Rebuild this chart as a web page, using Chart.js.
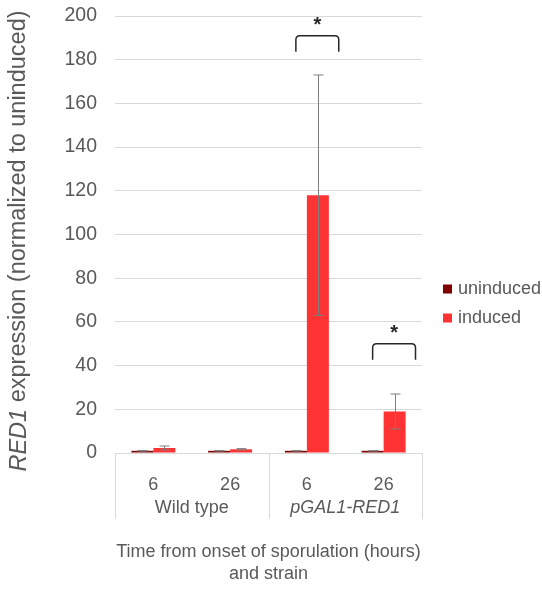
<!DOCTYPE html>
<html>
<head>
<meta charset="utf-8">
<script src="https://cdn.jsdelivr.net/npm/chart.js@4.4.1/dist/chart.umd.min.js"></script>
<style>
  html, body { margin: 0; padding: 0; background: #ffffff; }
  canvas { display: block; }
</style>
</head>
<body>
<canvas id="c" width="542" height="592"></canvas>
<script>
// ---- data ----
const categories = ['6', '26', '6', '26'];          // hours
const groups = ['Wild type', 'pGAL1-RED1'];          // strain (2 categories each)
const seriesNames = ['uninduced', 'induced'];
const uninduced = [1, 1, 1, 1];
const uninducedErr = [0.15, 0.1, 0.1, 0.1];
const induced = [2.3, 1.7, 118, 19];
const inducedErr = [0.9, 0.3, 55, 8];
const yTicksMin = 0, yTicksMax = 200, yTicksStep = 20;
const sigCategory = [2, 3];        // categories marked as significant
const sigBracketTop = [191, 50];   // bracket top, in y-axis units
const sigMark = '*';

// ---- styles ----
const FONT = "'Liberation Sans', Arial, sans-serif";
const TXT = '#595959';
const GRID = '#d9d9d9';
const COLORS = ['#7f0000', '#ff3333'];
const errs = [uninducedErr, inducedErr];

const overlay = {
  id: 'overlay',
  afterDatasetsDraw(chart) {
    const ctx = chart.ctx;
    const y = chart.scales.y;
    ctx.save();
    ctx.strokeStyle = '#7f7f7f';
    ctx.lineWidth = 1;
    chart.data.datasets.forEach((ds, di) => {
      const meta = chart.getDatasetMeta(di);
      meta.data.forEach((bar, i) => {
        const v = ds.data[i], e = errs[di][i];
        const x = Math.round(bar.x) + 0.5;
        const yt = y.getPixelForValue(v + e);
        const yb = y.getPixelForValue(Math.max(0, v - e));
        const cap = 5;
        ctx.beginPath();
        ctx.moveTo(x, yt); ctx.lineTo(x, yb);
        ctx.moveTo(x - cap, yt); ctx.lineTo(x + cap, yt);
        ctx.moveTo(x - cap, yb); ctx.lineTo(x + cap, yb);
        ctx.stroke();
      });
    });
    ctx.restore();
  },
  afterDraw(chart) {
    const ctx = chart.ctx;
    const area = chart.chartArea;
    const xs = chart.scales.x, ys = chart.scales.y;
    ctx.save();

    // group separators below the axis
    ctx.strokeStyle = GRID;
    ctx.lineWidth = 1;
    const mid = (xs.getPixelForValue(1) + xs.getPixelForValue(2)) / 2;
    [area.left, mid, area.right].forEach(px => {
      const xx = Math.round(px) + 0.5;
      ctx.beginPath();
      ctx.moveTo(xx, area.bottom);
      ctx.lineTo(xx, area.bottom + 66);
      ctx.stroke();
    });

    // group labels
    ctx.fillStyle = TXT;
    ctx.textAlign = 'center';
    ctx.textBaseline = 'middle';
    groups.forEach((g, gi) => {
      const cx = (xs.getPixelForValue(gi * 2) + xs.getPixelForValue(gi * 2 + 1)) / 2;
      ctx.font = (gi === 1 ? 'italic ' : '') + '18px ' + FONT;
      ctx.fillText(g, cx, area.bottom + 55);
    });

    // x-axis title
    ctx.font = '18px ' + FONT;
    const xc = (area.left + area.right) / 2;
    ctx.fillText('Time from onset of sporulation (hours)', xc, area.bottom + 99);
    ctx.fillText('and strain', xc, area.bottom + 121);

    // y-axis title (RED1 italic)
    ctx.save();
    ctx.translate(19, 241);
    ctx.rotate(-Math.PI / 2);
    const part1 = 'RED1', part2 = ' expression (normalized to uninduced)';
    const ysz = 23.5;
    ctx.font = 'italic ' + ysz + 'px ' + FONT;
    const w1 = ctx.measureText(part1).width;
    ctx.font = ysz + 'px ' + FONT;
    const w2 = ctx.measureText(part2).width;
    let sx = -(w1 + w2) / 2;
    ctx.textAlign = 'left';
    ctx.font = 'italic ' + ysz + 'px ' + FONT;
    ctx.fillText(part1, sx, 0);
    ctx.font = ysz + 'px ' + FONT;
    ctx.fillText(part2, sx + w1, 0);
    ctx.restore();

    // legend
    ctx.textAlign = 'left';
    ctx.textBaseline = 'middle';
    ctx.font = '18px ' + FONT;
    seriesNames.forEach((n, i) => {
      const cy = 289 + i * 29;
      ctx.fillStyle = COLORS[i];
      ctx.fillRect(443, cy - 4.5, 9, 9);
      ctx.fillStyle = TXT;
      ctx.fillText(n, 458, cy);
    });

    // significance brackets
    ctx.strokeStyle = '#262626';
    ctx.fillStyle = '#262626';
    ctx.lineWidth = 1.5;
    const m0 = chart.getDatasetMeta(0), m1 = chart.getDatasetMeta(1);
    sigCategory.forEach((ci, k) => {
      const b0 = m0.data[ci], b1 = m1.data[ci];
      const left = b0.x;
      const right = b1.x + b1.width * 0.95;
      const top = ys.getPixelForValue(sigBracketTop[k]);
      const bot = top + 16, r = 4;
      ctx.beginPath();
      ctx.moveTo(left, bot);
      ctx.lineTo(left, top + r);
      ctx.quadraticCurveTo(left, top, left + r, top);
      ctx.lineTo(right - r, top);
      ctx.quadraticCurveTo(right, top, right, top + r);
      ctx.lineTo(right, bot);
      ctx.stroke();
      ctx.font = 'bold 20px ' + FONT;
      ctx.textAlign = 'center';
      ctx.textBaseline = 'middle';
      ctx.fillText(sigMark, (left + right) / 2, top - 10);
    });

    ctx.restore();
  }
};

new Chart(document.getElementById('c'), {
  type: 'bar',
  data: {
    labels: categories,
    datasets: [
      { label: seriesNames[0], data: uninduced, backgroundColor: COLORS[0] },
      { label: seriesNames[1], data: induced, backgroundColor: COLORS[1] }
    ]
  },
  options: {
    responsive: false,
    animation: false,
    devicePixelRatio: 1,
    categoryPercentage: 0.573,
    barPercentage: 1,
    layout: { padding: { left: 0, right: 120, top: 16, bottom: 0 } },
    plugins: { legend: { display: false }, tooltip: { enabled: false } },
    scales: {
      x: {
        grid: { display: false },
        border: { display: true, color: GRID },
        ticks: { color: TXT, font: { family: FONT, size: 18 }, padding: 13, maxRotation: 0 },
        afterFit(s) { s.height = 139; }
      },
      y: {
        min: yTicksMin, max: yTicksMax,
        ticks: { stepSize: yTicksStep, color: TXT, font: { family: FONT, size: 19.5 }, padding: 0 },
        grid: { color: GRID, drawTicks: true, tickLength: 18, tickColor: 'rgba(0,0,0,0)' },
        border: { display: false },
        afterFit(s) { s.width = 115; }
      }
    }
  },
  plugins: [overlay]
});
</script>
</body>
</html>
